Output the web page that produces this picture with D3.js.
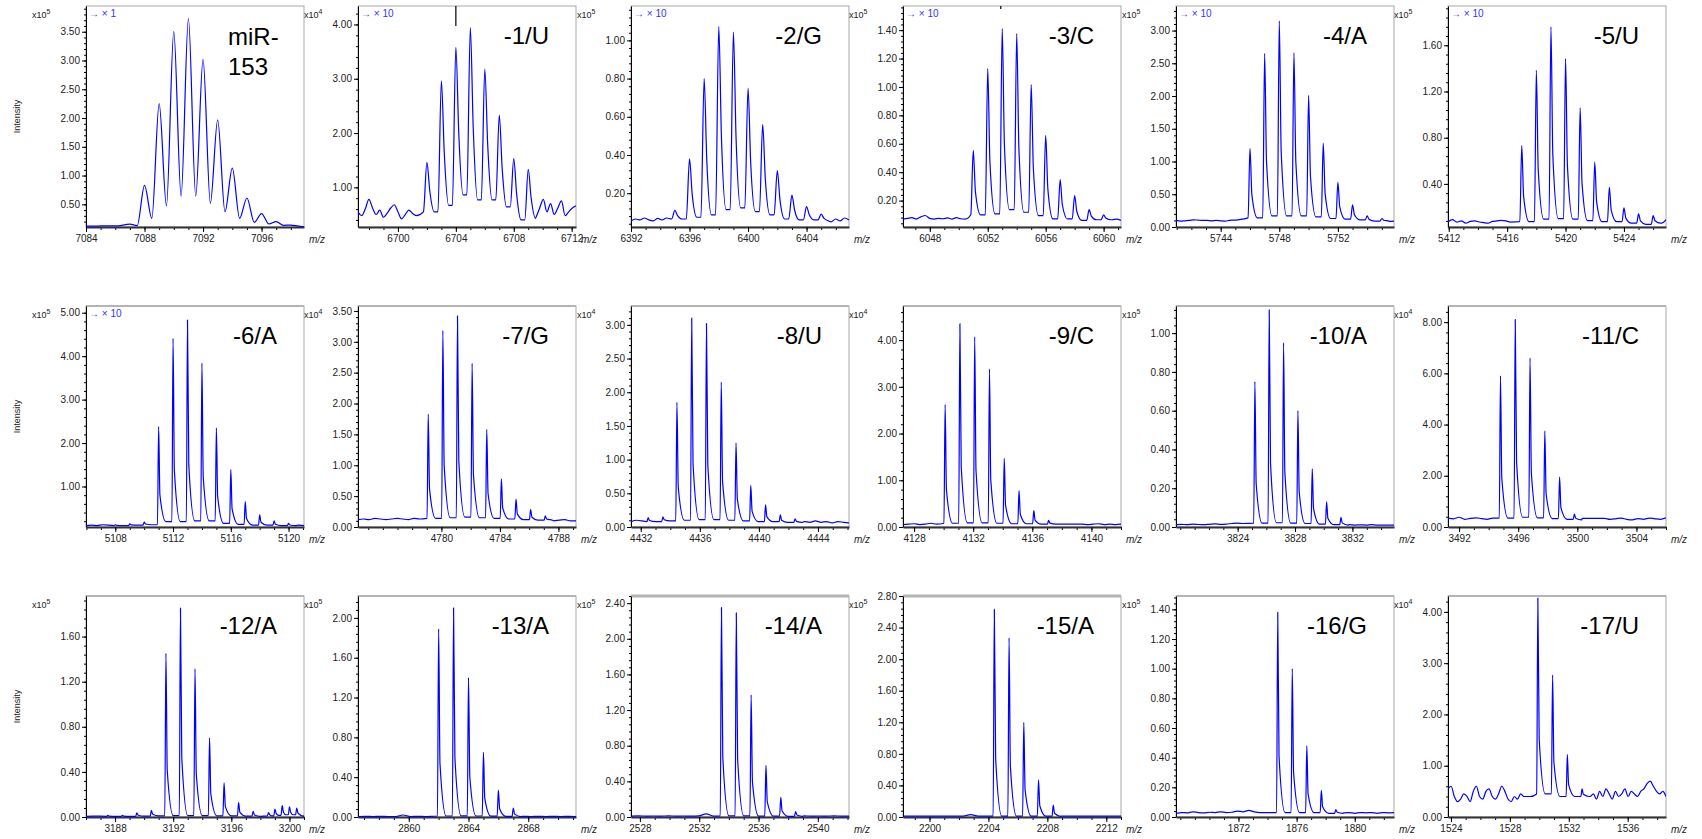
<!DOCTYPE html>
<html>
<head>
<meta charset="utf-8">
<script src="https://cdn.jsdelivr.net/npm/d3@7"></script>
<style>
body { margin: 0; background: #fff; }
text { font-family: "Liberation Sans", Arial, sans-serif; }
</style>
</head>
<body>
<svg id="chart" width="1702" height="839"></svg>
<script>
// panel labels, left to right, top to bottom
var labels = ["miR-153", "-1/U", "-2/G", "-3/C", "-4/A", "-5/U",
              "-6/A", "-7/G", "-8/U", "-9/C", "-10/A", "-11/C",
              "-12/A", "-13/A", "-14/A", "-15/A", "-16/G", "-17/U"];

// intensity exponent (x10^n) of each panel
var exps = [5, 4, 5, 5, 5, 5,
            5, 4, 4, 4, 5, 4,
            5, 5, 5, 5, 5, 4];

// zoom gain shown in the top-left corner
var gains = ["1", "10", "10", "10", "10", "10",
             "10", null, null, null, null, null,
             null, null, null, null, null, null];

var xDomains = [[7084, 7098.9], [6697.24, 6712.3], [6392, 6406.9], [6046.15, 6061.2], [5740.95, 5755.83], [5411.95, 5426.88],
                [5105.97, 5121.07], [4774.3, 4789.2], [4431.34, 4446.1], [4127.25, 4142.0], [3819.7, 3834.9], [3491.25, 3506.0],
                [3186.0, 3201.0], [2856.6, 2871.2], [2527.4, 2542.1], [2198.2, 2213.0], [1867.7, 1882.7], [1523.8, 1538.6]];

// labelled m/z ticks
var xTickLabels = [[7084, 7088, 7092, 7096], [6700, 6704, 6708, 6712], [6392, 6396, 6400, 6404], [6048, 6052, 6056, 6060],
                   [5744, 5748, 5752], [5412, 5416, 5420, 5424],
                   [5108, 5112, 5116, 5120], [4780, 4784, 4788], [4432, 4436, 4440, 4444], [4128, 4132, 4136, 4140],
                   [3824, 3828, 3832], [3492, 3496, 3500, 3504],
                   [3188, 3192, 3196, 3200], [2860, 2864, 2868], [2528, 2532, 2536, 2540], [2200, 2204, 2208, 2212],
                   [1872, 1876, 1880], [1524, 1528, 1532, 1536]];

var yDomains = [[0.106, 3.947], [0.27, 4.34], [0.023, 1.18], [0.014, 1.57], [0, 3.375], [0.027, 1.94],
                [0.068, 5.155], [0, 3.58], [0, 3.28], [0, 4.73], [0, 1.14], [0, 8.63],
                [0, 1.96], [0, 2.22], [0, 2.48], [0, 2.80], [0, 1.49], [0, 4.31]];

var yTickStep = [0.5, 1, 0.2, 0.2, 0.5, 0.4,
                 1, 0.5, 0.5, 1, 0.2, 2,
                 0.4, 0.4, 0.4, 0.4, 0.2, 1];

// peaks: [m/z, apex intensity, valley intensity after the peak]
var peaks = [
  [[7087, 0.155, 0.13], [7088, 0.83, 0.257], [7089, 2.25, 0.476], [7090, 3.50, 0.644], [7091, 3.73, 0.644], [7092, 3.02, 0.517],
   [7093, 1.97, 0.371], [7094, 1.13, 0.257], [7095, 0.61, 0.187], [7096, 0.34, 0.158], [7097, 0.20, 0.135], [7098, 0.14, 0.12]],
  [[6702, 1.46, 0.55], [6703, 2.96, 0.67], [6704, 3.58, 0.86], [6705, 3.94, 0.77], [6706, 3.18, 0.77], [6707, 2.33, 0.64],
   [6708, 1.53, 0.40], [6709, 1.33, 0.43]],
  [[6395, 0.11, 0.065], [6396, 0.38, 0.074], [6397, 0.80, 0.086], [6398, 1.073, 0.114], [6399, 1.044, 0.123], [6400, 0.75, 0.104],
   [6401, 0.56, 0.086], [6402, 0.318, 0.065], [6403, 0.19, 0.06], [6404, 0.13, 0.06], [6405, 0.09, 0.055]],
  [[6051, 0.553, 0.10], [6052, 1.129, 0.106], [6053, 1.412, 0.136], [6054, 1.376, 0.118], [6055, 1.017, 0.094], [6056, 0.659, 0.071],
   [6057, 0.348, 0.071], [6058, 0.235, 0.06], [6059, 0.136, 0.065], [6060, 0.10, 0.065]],
  [[5746, 1.20, 0.14], [5747, 2.65, 0.17], [5748, 3.15, 0.17], [5749, 2.66, 0.17], [5750, 2.01, 0.155], [5751, 1.28, 0.13],
   [5752, 0.68, 0.12], [5753, 0.34, 0.11], [5754, 0.17, 0.09], [5755, 0.13, 0.09]],
  [[5417, 0.732, 0.073], [5418, 1.383, 0.096], [5419, 1.76, 0.10], [5420, 1.484, 0.096], [5421, 1.059, 0.082], [5422, 0.588, 0.073],
   [5423, 0.371, 0.073], [5424, 0.192, 0.06], [5425, 0.14, 0.05], [5426, 0.125, 0.06]],
  [[5108, 0.12, 0.10], [5109, 0.14, 0.11], [5110, 0.18, 0.12], [5111, 2.38, 0.19], [5112, 4.41, 0.19], [5113, 4.83, 0.21],
   [5114, 3.84, 0.21], [5115, 2.35, 0.15], [5116, 1.39, 0.13], [5117, 0.65, 0.11], [5118, 0.35, 0.11], [5119, 0.21, 0.10], [5120, 0.15, 0.10]],
  [[4779.1, 1.83, 0.14], [4780.1, 3.18, 0.15], [4781.1, 3.42, 0.16], [4782.1, 2.65, 0.15], [4783.1, 1.58, 0.14], [4784.1, 0.78, 0.13],
   [4785.1, 0.45, 0.12], [4786.1, 0.28, 0.11], [4787.1, 0.18, 0.11]],
  [[4432.5, 0.14, 0.08], [4433.5, 0.15, 0.09], [4434.45, 1.85, 0.10], [4435.45, 3.10, 0.11], [4436.45, 3.02, 0.11], [4437.45, 2.15, 0.10],
   [4438.45, 1.25, 0.09], [4439.45, 0.62, 0.08], [4440.45, 0.33, 0.08], [4441.45, 0.18, 0.07], [4442.45, 0.12, 0.07]],
  [[4130.1, 2.62, 0.08], [4131.1, 4.35, 0.09], [4132.1, 4.07, 0.09], [4133.1, 3.38, 0.08], [4134.1, 1.47, 0.07], [4135.1, 0.78, 0.07],
   [4136.1, 0.35, 0.06], [4137.1, 0.14, 0.06]],
  [[3825.2, 0.75, 0.02], [3826.2, 1.12, 0.022], [3827.2, 0.95, 0.02], [3828.2, 0.60, 0.018], [3829.2, 0.30, 0.015], [3830.2, 0.13, 0.012],
   [3831.2, 0.05, 0.01]],
  [[3494.8, 5.9, 0.35], [3495.8, 8.1, 0.38], [3496.8, 6.6, 0.36], [3497.8, 3.75, 0.33], [3498.8, 1.95, 0.3], [3499.8, 0.5, 0.28]],
  [[3187.5, 0.015, 0.006], [3188.5, 0.015, 0.006], [3189.5, 0.036, 0.008], [3190.5, 0.06, 0.01], [3191.5, 1.452, 0.012], [3192.5, 1.852, 0.012],
   [3193.5, 1.313, 0.012], [3194.5, 0.702, 0.01], [3195.5, 0.302, 0.01], [3196.5, 0.128, 0.008], [3197.5, 0.05, 0.006],
   [3198.56, 0.04, 0.01], [3199.0, 0.07, 0.015], [3199.5, 0.10, 0.02], [3200.0, 0.09, 0.02], [3200.5, 0.08, 0.015]],
  [[2862.0, 1.89, 0.01], [2863.0, 2.10, 0.012], [2864.0, 1.40, 0.01], [2865.0, 0.65, 0.008], [2866.0, 0.27, 0.006], [2867.0, 0.09, 0.005]],
  [[2533.5, 2.35, 0.012], [2534.5, 2.29, 0.012], [2535.5, 1.37, 0.01], [2536.5, 0.58, 0.01], [2537.5, 0.22, 0.008], [2538.5, 0.06, 0.008]],
  [[2204.4, 2.63, 0.012], [2205.4, 2.27, 0.012], [2206.4, 1.20, 0.01], [2207.4, 0.47, 0.01], [2208.4, 0.15, 0.008]],
  [[1874.7, 1.38, 0.03], [1875.7, 1.00, 0.03], [1876.7, 0.48, 0.03], [1877.7, 0.18, 0.025], [1878.7, 0.05, 0.025]],
  [[1529.9, 4.27, 0.45], [1530.9, 2.77, 0.40], [1531.9, 1.22, 0.40], [1532.9, 0.55, 0.40]]
];

// baseline samples, evenly spread across each panel's m/z range
var noise = [
  [0.12, 0.12, 0.125, 0.125, 0.125, 0.13, 0.125, 0.13, 0.13, 0.13, 0.135, 0.13, 0.13, 0.14, 0.13, 0.13, 0.12, 0.12, 0.12, 0.115, 0.115, 0.115, 0.112, 0.112, 0.11, 0.11, 0.11, 0.11, 0.108, 0.108],
  [0.55, 0.48, 0.60, 0.78, 0.62, 0.50, 0.58, 0.45, 0.52, 0.62, 0.68, 0.55, 0.42, 0.50, 0.58, 0.52, 0.48, 0.62, 0.75, 0.60,
   0.55, 0.48, 0.62, 0.58, 0.65, 0.60, 0.62, 0.56, 0.50, 0.45, 0.55, 0.6, 0.6, 0.6, 0.6, 0.6, 0.6, 0.6, 0.6, 0.6,
   0.6, 0.6, 0.6, 0.6, 0.6, 0.6, 0.6, 0.6, 0.6, 0.45, 0.62, 0.78, 0.55, 0.70, 0.50, 0.62, 0.75, 0.48, 0.55, 0.62, 0.66],
  [0.055, 0.065, 0.06, 0.07, 0.06, 0.055, 0.068, 0.06, 0.07, 0.062, 0.058, 0.07, 0.06, 0.065, 0.055, 0.06, 0.07, 0.06, 0.065, 0.06,
   0.06, 0.06, 0.06, 0.06, 0.06, 0.06, 0.06, 0.06, 0.06, 0.06, 0.06, 0.06, 0.06, 0.06, 0.06, 0.06, 0.06, 0.06, 0.06, 0.06,
   0.065, 0.055, 0.06, 0.07, 0.058, 0.05, 0.065, 0.055, 0.07, 0.06],
  [0.07, 0.075, 0.08, 0.07, 0.085, 0.095, 0.075, 0.07, 0.075, 0.072, 0.078, 0.07, 0.08, 0.072, 0.07, 0.085, 0.07, 0.075, 0.078, 0.08,
   0.075, 0.07, 0.07, 0.07, 0.07, 0.07, 0.07, 0.07, 0.07, 0.07, 0.07, 0.07, 0.07, 0.07, 0.07, 0.07, 0.07, 0.07, 0.07, 0.07,
   0.07, 0.06, 0.065, 0.07, 0.075, 0.06, 0.07, 0.065, 0.07, 0.06],
  [0.10, 0.09, 0.095, 0.10, 0.11, 0.105, 0.10, 0.10, 0.095, 0.10, 0.095, 0.09, 0.10, 0.105, 0.11, 0.12, 0.12, 0.11, 0.12, 0.12,
   0.12, 0.12, 0.12, 0.12, 0.12, 0.12, 0.12, 0.12, 0.12, 0.12, 0.12, 0.12, 0.12, 0.12, 0.12, 0.12, 0.12, 0.12, 0.12, 0.12,
   0.12, 0.12, 0.12, 0.12, 0.1, 0.1, 0.09, 0.09, 0.085, 0.09],
  [0.07, 0.09, 0.07, 0.08, 0.06, 0.075, 0.08, 0.07, 0.065, 0.06, 0.075, 0.08, 0.085, 0.08, 0.07, 0.085, 0.09, 0.07, 0.10, 0.09,
   0.08, 0.08, 0.08, 0.08, 0.08, 0.08, 0.08, 0.08, 0.08, 0.08, 0.08, 0.08, 0.08, 0.08, 0.08, 0.08, 0.08, 0.08, 0.08, 0.08,
   0.08, 0.08, 0.08, 0.08, 0.08, 0.06, 0.07, 0.05, 0.06, 0.09],
  [0.10, 0.11, 0.10, 0.12, 0.11, 0.10, 0.11, 0.12, 0.11, 0.10, 0.12, 0.11, 0.12, 0.11, 0.12, 0.11, 0.12, 0.11, 0.12, 0.11,
   0.11, 0.11, 0.11, 0.11, 0.11, 0.11, 0.11, 0.11, 0.11, 0.11, 0.11, 0.11, 0.11, 0.11, 0.11, 0.11, 0.11, 0.11, 0.11, 0.10],
  [0.12, 0.13, 0.12, 0.14, 0.13, 0.12, 0.13, 0.14, 0.13, 0.12, 0.14, 0.13, 0.15, 0.14, 0.13, 0.14, 0.13, 0.13, 0.13, 0.13,
   0.13, 0.13, 0.13, 0.13, 0.13, 0.13, 0.13, 0.13, 0.13, 0.13, 0.13, 0.13, 0.12, 0.11, 0.12, 0.1, 0.11, 0.12, 0.1, 0.1],
  [0.08, 0.1, 0.07, 0.09, 0.12, 0.08, 0.1, 0.09, 0.07, 0.11, 0.08, 0.09, 0.1, 0.08, 0.09, 0.08, 0.08, 0.08, 0.08, 0.08,
   0.08, 0.08, 0.08, 0.08, 0.08, 0.08, 0.08, 0.08, 0.08, 0.08, 0.08, 0.08, 0.07, 0.09, 0.07, 0.08, 0.06, 0.08, 0.07, 0.06],
  [0.05, 0.06, 0.07, 0.05, 0.06, 0.08, 0.06, 0.05, 0.07, 0.06, 0.07, 0.06, 0.06, 0.06, 0.06, 0.06, 0.06, 0.06, 0.06, 0.06,
   0.06, 0.06, 0.06, 0.06, 0.06, 0.06, 0.06, 0.06, 0.06, 0.06, 0.06, 0.06, 0.06, 0.05, 0.06, 0.07, 0.05, 0.06, 0.05, 0.06],
  [0.012, 0.014, 0.012, 0.015, 0.013, 0.012, 0.014, 0.016, 0.014, 0.015, 0.018, 0.02, 0.018, 0.02, 0.02, 0.02, 0.02, 0.02, 0.02, 0.02,
   0.02, 0.02, 0.02, 0.02, 0.02, 0.02, 0.02, 0.02, 0.02, 0.012, 0.01, 0.012, 0.01, 0.011, 0.01, 0.012, 0.01, 0.01, 0.01, 0.01],
  [0.35, 0.32, 0.38, 0.3, 0.34, 0.36, 0.33, 0.3, 0.35, 0.37, 0.32, 0.34, 0.36, 0.34, 0.34, 0.34, 0.34, 0.34, 0.34, 0.34,
   0.34, 0.34, 0.34, 0.34, 0.34, 0.34, 0.34, 0.34, 0.34, 0.3, 0.32, 0.35, 0.3, 0.28, 0.33, 0.3, 0.35, 0.32, 0.3, 0.36],
  [0.006, 0.008, 0.006, 0.007, 0.005, 0.006, 0.007, 0.006, 0.005, 0.006, 0.006, 0.006, 0.006, 0.006, 0.006, 0.006, 0.006, 0.006, 0.006, 0.006,
   0.006, 0.006, 0.006, 0.006, 0.006, 0.006, 0.006, 0.006, 0.006, 0.006],
  [0.005, 0.006, 0.005, 0.006, 0.005, 0.005, 0.02, 0.005, 0.006, 0.005, 0.006, 0.005, 0.006, 0.006, 0.006, 0.006, 0.006, 0.006, 0.006, 0.006,
   0.006, 0.005, 0.006, 0.005, 0.006, 0.005, 0.006, 0.005, 0.006, 0.005],
  [0.01, 0.012, 0.01, 0.011, 0.01, 0.012, 0.01, 0.011, 0.01, 0.012, 0.035, 0.01, 0.012, 0.01, 0.01, 0.01, 0.01, 0.01, 0.01, 0.01,
   0.01, 0.01, 0.01, 0.012, 0.01, 0.011, 0.01, 0.012, 0.01, 0.01],
  [0.01, 0.012, 0.01, 0.011, 0.01, 0.012, 0.01, 0.011, 0.012, 0.03, 0.012, 0.01, 0.012, 0.01, 0.01, 0.01, 0.01, 0.01, 0.01, 0.01,
   0.01, 0.01, 0.012, 0.01, 0.011, 0.01, 0.012, 0.01, 0.011, 0.01],
  [0.025, 0.03, 0.028, 0.035, 0.03, 0.028, 0.032, 0.03, 0.035, 0.03, 0.032, 0.04, 0.035, 0.045, 0.035, 0.03, 0.03, 0.03, 0.03, 0.03,
   0.03, 0.03, 0.03, 0.03, 0.035, 0.03, 0.028, 0.032, 0.03, 0.035, 0.028, 0.03, 0.025, 0.03, 0.028, 0.03, 0.025, 0.03, 0.028, 0.03],
  [0.55, 0.60, 0.40, 0.30, 0.35, 0.45, 0.40, 0.30, 0.50, 0.60, 0.40, 0.35, 0.50, 0.55, 0.40,
   0.35, 0.45, 0.60, 0.50, 0.35, 0.30, 0.40, 0.35, 0.45, 0.40, 0.40, 0.40, 0.40, 0.40, 0.40,
   0.40, 0.40, 0.40, 0.40, 0.40, 0.40, 0.40, 0.40, 0.40, 0.40, 0.40, 0.40, 0.40, 0.40, 0.40, 0.40,
   0.45, 0.35, 0.50, 0.40, 0.55, 0.45, 0.35, 0.50, 0.40, 0.45, 0.55, 0.40, 0.50, 0.45, 0.40, 0.50,
   0.55, 0.65, 0.70, 0.60, 0.50, 0.45, 0.50, 0.40]
];

// short marker lines hanging from the frame top: [panel, m/z, length]
var markers = [[1, 6704, 20], [3, 6052.9, 3]];

// peak shape per panel: foot width, tail offset, tail height fraction
var shapes = [
  {foot: 0.5, tail: 0, tailK: 0},
  {foot: 0.24, tail: 0.2, tailK: 0.42}, {foot: 0.22, tail: 0.18, tailK: 0.4}, {foot: 0.17, tail: 0.15, tailK: 0.36},
  {foot: 0.13, tail: 0.13, tailK: 0.33}, {foot: 0.13, tail: 0.13, tailK: 0.33}
];
for (var s = 6; s < 18; s++) shapes.push({foot: 0.08, tail: 0.09, tailK: 0.28});

var left0 = 86, colStep = 272.4, plotW = 218, plotH = 221,
    rowTops = [6, 306, 596];

var svg = d3.select("#chart");

function buildPoints(i) {
  var pk = peaks[i], nz = noise[i], d = xDomains[i], sh = shapes[i], pts = [];
  nz.forEach(function(v, k) {
    var x = d[0] + k * (d[1] - d[0]) / (nz.length - 1);
    var inside = pk.some(function(p) { return Math.abs(x - p[0]) < 0.5; });
    if (!inside) pts.push([x, v]);
  });
  pk.forEach(function(p, k) {
    var prev = pk[k - 1], next = pk[k + 1];
    var gapL = prev ? p[0] - prev[0] : 1, gapR = next ? next[0] - p[0] : 1;
    var half = Math.min(0.5, gapR / 2);
    var footV = prev && gapL < 1.05 ? prev[2] : p[2];
    if (sh.foot < gapL / 2) pts.push([p[0] - sh.foot, footV]);
    pts.push([p[0], p[1]]);
    if (sh.tail && sh.tail < half) pts.push([p[0] + sh.tail, p[2] + (p[1] - p[2]) * sh.tailK]);
    pts.push([p[0] + half, p[2]]);
  });
  pts.sort(function(a, b) { return a[0] - b[0]; });
  return pts;
}

labels.forEach(function(name, i) {
  var col = i % 6, row = Math.floor(i / 6);
  var x0 = Math.round(left0 + col * colStep), y0 = rowTops[row];
  var g = svg.append("g").attr("transform", "translate(" + x0 + "," + y0 + ")");

  var x = d3.scaleLinear().domain(xDomains[i]).range([0, plotW]);
  var y = d3.scaleLinear().domain(yDomains[i]).range([plotH, 0]);

  g.append("clipPath").attr("id", "clip" + i)
    .append("rect").attr("width", plotW).attr("height", plotH);

  g.append("rect").attr("width", plotW).attr("height", plotH)
    .attr("fill", "#fff").attr("stroke", "#a8a8a8").attr("stroke-width", 1);
  // heavier grey top edge on the lower rows
  if (row > 0) {
    g.append("line").attr("x1", 0).attr("x2", plotW).attr("y1", 0).attr("y2", 0)
      .attr("stroke", "#b4b4b4").attr("stroke-width", (i === 14 || i === 15) ? 3 : 2);
  }

  // y axis
  var st = yTickStep[i], yd = yDomains[i];
  var yMajor = d3.range(Math.ceil(yd[0] / st - 1e-6), Math.floor(yd[1] / st + 1e-6) + 1).map(function(k) { return k * st; });
  var ms = st / 5;
  var yMinor = d3.range(Math.ceil(yd[0] / ms - 1e-6), Math.floor(yd[1] / ms + 1e-6) + 1).map(function(k) { return k * ms; });

  g.append("g").call(d3.axisLeft(y).tickValues(yMinor).tickSize(2).tickSizeOuter(0).tickFormat(""))
    .call(function(a) { a.select(".domain").remove(); });
  var ya = g.append("g").call(d3.axisLeft(y).tickValues(yMajor).tickSize(4).tickSizeOuter(0).tickPadding(2)
    .tickFormat(d3.format(".2f")));
  ya.select(".domain").attr("stroke", "#000");
  ya.selectAll("text").attr("font-size", 10).attr("fill", "#222")
    .attr("font-family", "'Liberation Sans', Arial, sans-serif");

  // x axis
  var xd = xDomains[i];
  var xMinor = d3.range(Math.ceil(xd[0]), Math.floor(xd[1]) + 1);
  g.append("g").attr("transform", "translate(0," + plotH + ")")
    .call(d3.axisBottom(x).tickValues(xMinor).tickSize(3).tickSizeOuter(0).tickFormat(""))
    .call(function(a) { a.select(".domain").remove(); });
  var xa = g.append("g").attr("transform", "translate(0," + plotH + ")")
    .call(d3.axisBottom(x).tickValues(xTickLabels[i]).tickSize(5).tickSizeOuter(0).tickPadding(3).tickFormat(d3.format("d")));
  xa.select(".domain").attr("stroke", "#333").attr("stroke-width", 2);
  xa.selectAll("text").attr("font-size", 10).attr("fill", "#222")
    .attr("font-family", "'Liberation Sans', Arial, sans-serif");

  g.append("text").attr("x", plotW + 5).attr("y", plotH + 16)
    .attr("font-size", 10).attr("font-style", "italic").attr("fill", "#222").text("m/z");

  // exponent label
  var ex = g.append("text").attr("x", -54).attr("y", 12).attr("font-size", 9).attr("fill", "#222");
  ex.append("tspan").text("x10");
  ex.append("tspan").attr("dy", -4).attr("font-size", 7).text(exps[i]);

  if (col === 0) {
    g.append("text").attr("transform", "translate(-66," + (plotH * 0.5) + ")rotate(-90)")
      .attr("text-anchor", "middle").attr("font-size", 9).attr("fill", "#222").text("Intensity");
  }

  if (gains[i]) {
    g.append("text").attr("x", 3).attr("y", 11).attr("font-size", 10).attr("fill", "#3333ff")
      .text("\u2192 \u00d7 " + gains[i]);
  }

  // spectrum
  var line = d3.line()
    .x(function(d) { return x(d[0]); })
    .y(function(d) { return y(d[1]); })
    .curve(d3.curveMonotoneX);
  g.append("path").datum(buildPoints(i))
    .attr("clip-path", "url(#clip" + i + ")")
    .attr("fill", "none").attr("stroke", "#0000ff").attr("stroke-width", 1.2)
    .attr("d", line);

  markers.filter(function(m) { return m[0] === i; }).forEach(function(m) {
    g.append("line").attr("x1", x(m[1])).attr("x2", x(m[1])).attr("y1", 0).attr("y2", m[2])
      .attr("stroke", "#000").attr("stroke-width", 1.2);
  });

  // panel title
  if (name === "miR-153") {
    g.append("text").attr("x", 142).attr("y", 39).attr("font-size", 24).text("miR-");
    g.append("text").attr("x", 142).attr("y", 69).attr("font-size", 24).text("153");
  } else {
    g.append("text").attr("x", 191).attr("y", 38).attr("text-anchor", "end").attr("font-size", 24).text(name);
  }
});
</script>
</body>
</html>
